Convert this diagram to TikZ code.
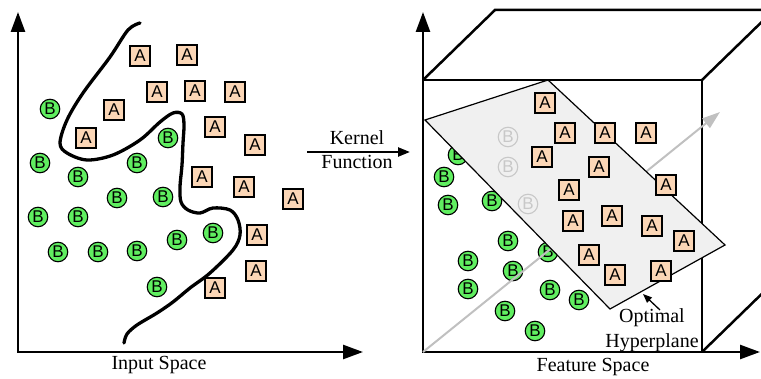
\documentclass[tikz,border=0pt]{standalone}
\usepackage{fontspec}
\setmainfont{Liberation Serif}
\newfontfamily\sanslab{Liberation Sans}
\usetikzlibrary{arrows.meta}
\definecolor{afill}{RGB}{251,214,182}
\definecolor{bfill}{RGB}{96,238,96}
\definecolor{planefill}{RGB}{240,240,240}
\definecolor{fadegray}{RGB}{200,200,200}
\definecolor{vecgray}{RGB}{192,192,192}
\begin{document}
\begin{tikzpicture}[x=1pt,y=-1pt,
  asq/.style={draw, fill=afill, line width=1.1pt, minimum size=20pt, inner sep=0pt, font=\sanslab\fontsize{17}{17}\selectfont},
  bci/.style={circle, draw, fill=bfill, line width=1.1pt, minimum size=19.5pt, inner sep=0pt, font=\sanslab\fontsize{17}{17}\selectfont},
  bfade/.style={circle, draw=fadegray, text=fadegray, line width=1.1pt, minimum size=19.5pt, inner sep=0pt, font=\sanslab\fontsize{17}{17}\selectfont},
  axisline/.style={line width=2.6pt, line join=miter, {Triangle[length=20pt,width=14pt]}-{Triangle[length=20pt,width=14pt]}},
  boxline/.style={line width=2.5pt, line join=miter},
  lbl/.style={font=\fontsize{20}{20}\selectfont, inner sep=0pt, anchor=base},
]
\useasboundingbox (0,0) rectangle (761,379);
\clip (0,0) rectangle (761,379);

% ---------- left panel ----------
\coordinate (ltop) at (18,12);
\coordinate (lorig) at (18,352);
\coordinate (lright) at (363,352);
\draw[axisline] (ltop) -- (lorig) -- (lright);
\node[lbl] (inspace) at (159,370) {Input Space};

\draw[line width=3.3pt, line cap=round, line join=round] plot[smooth, tension=0.55] coordinates {
 (140,23) (128,30) (110,57) (83,93) (67,120) (60,143) (67,153) (87,160) (113,155)
 (140,140) (160,122) (173,113) (182,114) (184,125) (183,143) (182,165) (180,187)
 (181,202) (188,210) (200,213) (213,208) (230,210) (238,220) (240,235) (233,250)
 (210,273) (190,288) (173,302) (157,313) (137,325) (127,334) (124,343)};

\foreach \n/\x/\y in {lb1/50/109, lb2/40/163, lb3/78/177, lb4/137/163, lb5/168/138,
  lb6/117/198, lb7/163/197, lb8/38/217, lb9/78/217, lb10/58/252, lb11/98/252,
  lb12/137/251, lb13/177/240, lb14/213/233, lb15/157/287}
  \node[bci] (\n) at (\x,\y) {B};

\foreach \n/\x/\y in {la1/140/56, la2/187/55, la3/157/92, la4/195/91, la5/235/92,
  la6/114/110, la7/86/138, la8/215/127, la9/255/145, la10/202/177, la11/244/187,
  la12/293/199, la13/257/235, la14/256/271, la15/215/288}
  \node[asq] (\n) at (\x,\y) {A};

% ---------- kernel arrow ----------
\coordinate (kst) at (307,152);
\coordinate (ken) at (410,152);
\draw[line width=2.3pt, -{Triangle[length=12pt,width=9pt]}] (kst) -- (ken);
\node[lbl] (kern) at (357,145) {Kernel};
\node[lbl] (func) at (357,169) {Function};

% ---------- right panel ----------
\coordinate (f1) at (423,80);
\coordinate (f2) at (702,80);
\coordinate (f3) at (702,352);
\coordinate (b1) at (495,10);
\coordinate (b2) at (774,10);
\coordinate (b3) at (774,282);
\draw[boxline] (f1) rectangle (f3);
\draw[boxline] (f1) -- (b1) -- (b2);
\draw[boxline] (f2) -- (b2);
\draw[boxline] (f3) -- (b3);

\coordinate (rtop) at (423,12);
\coordinate (rorig) at (423,352);
\coordinate (rright) at (760,352);
\draw[axisline] (rtop) -- (rorig) -- (rright);
\node[lbl] (fspace) at (593,372) {Feature Space};

\foreach \n/\x/\y in {rb1/458/155, rb2/444/177, rb3/448/205, rb4/492/201, rb5/508/241,
  rb6/468/261, rb7/513/271, rb8/548/252, rb9/468/289, rb10/550/290, rb11/579/300,
  rb12/505/311, rb13/535/331}
  \node[bci] (\n) at (\x,\y) {B};

\coordinate (vtip) at (720,112);
\draw[vecgray, line width=2pt, -{Triangle[length=18pt,width=12pt]}] (rorig) -- (vtip);

\coordinate (p1) at (425,120);
\coordinate (p2) at (548,80);
\coordinate (p3) at (725,245);
\coordinate (p4) at (610,309);
\draw[fill=planefill, line width=1.2pt, line join=miter] (p1) -- (p2) -- (p3) -- (p4) -- cycle;

\foreach \n/\x/\y in {fb1/508/137, fb2/508/167, fb3/528/204}
  \node[bfade] (\n) at (\x,\y) {B};

\foreach \n/\x/\y in {ra1/545/103, ra2/565/133, ra3/605/133, ra4/646/133, ra5/542/157,
  ra6/599/167, ra7/666/185, ra8/569/190, ra9/573/221, ra10/612/216, ra11/652/226,
  ra12/684/241, ra13/589/255, ra14/615/275, ra15/661/271}
  \node[asq] (\n) at (\x,\y) {A};

\coordinate (optst) at (660,310);
\coordinate (opttip) at (643,294);
\draw[line width=1.3pt, -{Triangle[length=9pt,width=7pt]}] (optst) -- (opttip);
\node[lbl] (opt) at (652,323) {Optimal};
\node[lbl] (hyp) at (652,348) {Hyperplane};
\end{tikzpicture}
\end{document}
